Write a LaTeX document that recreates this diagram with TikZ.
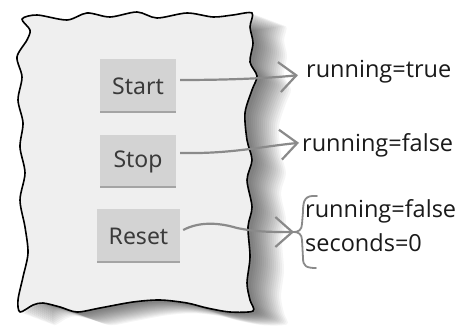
\documentclass[tikz,border=0pt]{standalone}
\usepackage{fontspec}
\newfontfamily\btnfont{Noto Sans}
\newfontfamily\handfont{Open Sans}
\usetikzlibrary{arrows.meta}
\definecolor{paper}{HTML}{EFEFEF}
\definecolor{btngray}{HTML}{D3D3D3}
\definecolor{btnedge}{HTML}{A4A4A4}
\definecolor{btntext}{HTML}{3A3A3A}
\definecolor{arrowgray}{HTML}{8A8A8A}
\definecolor{notetext}{HTML}{1A1A1A}
\begin{document}
\begin{tikzpicture}[x=1pt,y=-1pt,
  paperpath/.style={insert path={plot[smooth cycle,tension=0.5] coordinates {
    (22,19) (37,15) (67,20) (87,13) (110,17) (137,12) (157,18) (187,13) (213,17) (233,15) (252,13)
    (250,27) (253,43) (250,62) (257,76) (252,90) (245,113) (247,140) (252,160) (247,180) (252,207) (248,227) (250,257) (247,283) (250,300) (253,311)
    (230,312) (207,308) (187,303) (160,300) (133,302) (100,308) (77,312) (60,307) (43,303) (33,305) (20,312)
    (18,300) (23,277) (28,253) (25,227) (20,200) (25,173) (20,147) (23,123) (18,100) (22,77) (17,57) (27,40) (30,30)}}},
  btn/.style={fill=btngray, minimum width=76pt, minimum height=54pt, inner sep=0pt,
    font=\btnfont\fontsize{23}{23}\selectfont, text=btntext,
    path picture={\draw[btnedge,line width=3pt] (path picture bounding box.south west) -- (path picture bounding box.south east);}},
  note/.style={font=\handfont\fontsize{23.5}{34}\selectfont, inner sep=0pt, anchor=base west, text=notetext},
  conn/.style={draw=arrowgray, line width=2.2pt, -{Straight Barb[length=17pt,width=30pt]}},
  bracestyle/.style={draw=arrowgray, line width=1.8pt, line cap=round}]
\useasboundingbox (0,0) rectangle (457,328);
\fill[white] (0,0) rectangle (457,328);
% shadow
\foreach \i in {0,...,15} {
  \fill[black, opacity=0.04, shift={({4+2*\i},{2+0.75*\i})}, paperpath];
}
% paper
\filldraw[fill=paper, draw=black, line width=1.6pt, line join=round, paperpath];
% buttons
\node[btn] (start) at (138,86) {Start};
\node[btn, minimum height=53pt] (stop) at (138,161.5) {Stop};
\node[btn, minimum width=83pt] (reset) at (138.5,236) {Reset};
% notes
\node[note] (t1) at (306,78) {running=true};
\node[note] (t2) at (302,152) {running=false};
\node[note, align=left] (t3) at (305,252) {running=false\\seconds=0};
% brace
\coordinate (bt) at (294,232);
\draw[bracestyle] (317,196) .. controls (305,195) and (303,200) .. (303,212) -- (302,224)
  .. controls (302,230) and (298,232) .. (bt)
  .. controls (298,232) and (302,234) .. (302,240) -- (303,258)
  .. controls (303,266) and (306,268) .. (316,268);
% connectors
\draw[conn] ([shift={(4,-6)}]start.east) .. controls +(50,0) and +(-30,3) .. ([shift={(-8,3)}]t1.west);
\draw[conn] ([shift={(4,-8.5)}]stop.east) .. controls +(50,1) and +(-40,4) .. ([shift={(-3,-3)}]t2.west);
\draw[conn] ([shift={(3,-6)}]reset.east) .. controls +(15,-8) and +(-20,-6) .. (237,228) .. controls +(20,4) and +(-25,0) .. (bt);
\end{tikzpicture}
\end{document}
